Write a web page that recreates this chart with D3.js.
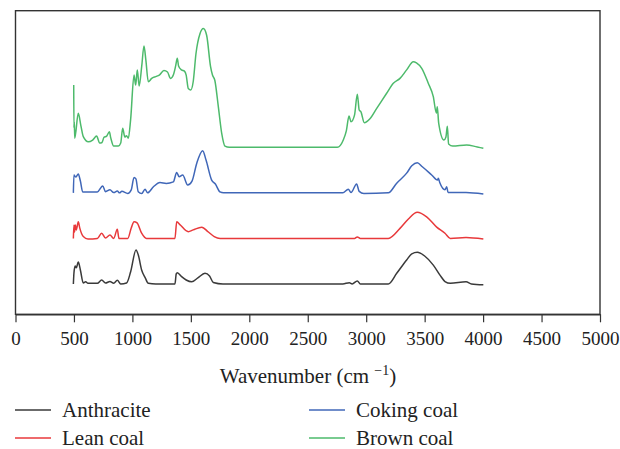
<!DOCTYPE html>
<html>
<head>
<meta charset="utf-8">
<script src="https://cdn.jsdelivr.net/npm/d3@7"></script>
<style>
  html, body { margin: 0; padding: 0; background: #fff; }
  svg { display: block; font-family: "Liberation Serif", "DejaVu Serif", serif; }
</style>
</head>
<body>
<svg id="chart" width="620" height="449"></svg>
<script>
// FTIR spectra of four coal ranks, stacked with vertical offsets.
const seriesNames = ["Anthracite", "Lean coal", "Coking coal", "Brown coal"];
const seriesColors = ["#3a3a3a", "#e8393b", "#4067b8", "#4dba6b"];
const seriesOffsets = [10, 25, 40, 55];

const xTicks = [0, 500, 1000, 1500, 2000, 2500, 3000, 3500, 4000, 4500, 5000];

// wavenumber (cm^-1), relative absorbance
const anthraciteWave = [495, 500, 510, 520, 537, 555, 580, 600, 620, 700, 737, 770, 808, 840, 871, 900, 950, 985, 1031, 1050, 1079, 1110, 1136, 1200, 1364, 1375, 1384, 1421, 1460, 1507, 1560, 1621, 1660, 1692, 1775, 2800, 2856, 2880, 2924, 2950, 3189, 3261, 3346, 3390, 3437, 3500, 3574, 3631, 3674, 3720, 3854, 3900, 4002];
const anthraciteAbs = [0, 3.6, 5.9, 5.3, 7.2, 4.6, 0.3, 0.7, 0.2, 0.2, 1.3, 0.3, 0.8, 0.2, 1.2, 0, 0.3, 4, 11.2, 9.6, 4.6, 2, 0.2, 0, 0, 3.3, 3.7, 2.4, 1.3, 0.7, 2, 3.5, 2.6, 0.5, 0, 0, 0.4, 0, 1, 0, 0, 3.5, 7.9, 9.9, 10.4, 9.2, 6.2, 2.9, 0.8, 0.2, 0.7, 0, -0.3];

const leanWave = [495, 500, 505, 512, 520, 537, 550, 580, 620, 700, 737, 770, 808, 840, 871, 885, 960, 990, 1014, 1040, 1079, 1120, 1364, 1379, 1410, 1478, 1520, 1593, 1650, 1700, 1750, 2900, 2924, 2950, 3189, 3289, 3361, 3437, 3517, 3603, 3674, 3720, 3854, 4002];
const leanAbs = [0, 4.4, 2.1, 4.4, 2.8, 5.5, 3.4, 0.6, -0.2, 0, 1.7, 0.1, 1.1, 0, 3, 0, 0, 3.4, 5.5, 5.1, 1.7, 0, 0, 5.5, 4.4, 2.2, 2.8, 3.7, 2.1, 0.6, 0, 0, 0.5, 0, 0, 3.3, 6.4, 8.6, 7.1, 3.7, 1.7, 0, 0.3, -0.2];

const cokingWave = [495, 500, 515, 537, 555, 575, 700, 746, 770, 808, 840, 871, 890, 910, 960, 990, 1014, 1030, 1050, 1080, 1108, 1130, 1180, 1236, 1290, 1350, 1379, 1400, 1430, 1473, 1510, 1550, 1601, 1630, 1678, 1710, 1749, 1780, 2800, 2847, 2870, 2918, 2940, 2980, 3189, 3261, 3346, 3390, 3437, 3480, 3560, 3610, 3617, 3630, 3674, 3689, 3700, 3854, 4002];
const cokingAbs = [0, 5.9, 5.2, 6.2, 3.9, 0.3, 0.3, 2.3, 0.4, 1, 0.1, 0.6, 0, 0.5, -0.2, 1, 5.1, 4.6, 0.4, -0.2, 1.2, 0, 2, 3.4, 3.1, 3.6, 6.7, 5.3, 5.9, 2.6, 3.9, 9.7, 13.9, 10.8, 4.2, 2.9, 0.3, 0, 0, 1.2, 0.1, 2.9, 0.5, -0.2, 0, 3.2, 6.5, 8.9, 9.9, 8.6, 5.9, 4.2, 4.8, 3.3, 1, 2, 0.1, 0.1, -0.4];

const brownWave = [498, 500, 503, 507, 537, 560, 580, 623, 660, 694, 720, 740, 757, 780, 803, 815, 840, 880, 900, 917, 935, 950, 965, 985, 1014, 1028, 1042, 1058, 1080, 1099, 1115, 1136, 1165, 1200, 1230, 1270, 1300, 1327, 1350, 1370, 1384, 1395, 1420, 1445, 1460, 1478, 1500, 1520, 1544, 1578, 1607, 1635, 1669, 1685, 1705, 1735, 1764, 1792, 1830, 2753, 2804, 2830, 2853, 2870, 2900, 2924, 2940, 2955, 2984, 3030, 3090, 3175, 3232, 3289, 3346, 3403, 3430, 3475, 3531, 3574, 3600, 3608, 3620, 3665, 3682, 3694, 3705, 3740, 3859, 3950, 4002];
const brownAbs = [20.5, 6.4, 8.4, 3, 11.2, 7, 3.5, 1.8, 2.4, 3.7, 1.4, 1.6, 3.3, 3.7, 5.1, 3.1, 0.4, 0.4, 1.4, 6.3, 3.4, 3.8, 3, 9.2, 23.8, 20.5, 25.5, 20.2, 26.8, 33.4, 28.8, 21.6, 22.7, 23.3, 23.8, 25.3, 24.8, 22.7, 23.8, 26.8, 29.3, 26.8, 25.5, 25.1, 23.8, 19.4, 18.9, 21.6, 30.9, 37.4, 39.1, 36.9, 26.5, 23.8, 22.1, 13.4, 4.6, 0.4, 0, 0, 2.4, 5.4, 10.3, 8.4, 10.6, 17.5, 12.3, 11.7, 8.1, 9.3, 12.8, 17.8, 21.1, 22.7, 25.5, 28.2, 27.8, 26, 21.1, 16.7, 11.3, 13.4, 8, 2.4, 3.4, 6.9, 1.1, 0.4, 0.8, 0.1, -0.3];

const waves = [anthraciteWave, leanWave, cokingWave, brownWave];
const absorb = [anthraciteAbs, leanAbs, cokingAbs, brownAbs];

const svg = d3.select("#chart");
const plot = { left: 15.5, right: 600, top: 10.7, bottom: 314.3 };

const x = d3.scaleLinear().domain([0, 5000]).range([plot.left, plot.right]);
const y = d3.scaleLinear().domain([0, 100]).range([plot.bottom, plot.top]);

// plot frame
svg.append("rect")
  .attr("x", plot.left).attr("y", plot.top)
  .attr("width", plot.right - plot.left)
  .attr("height", plot.bottom - plot.top)
  .attr("fill", "none")
  .attr("stroke", "#333")
  .attr("stroke-width", 1.4);

// bottom axis
const xAxis = d3.axisBottom(x).tickValues(xTicks).tickFormat(d3.format("d")).tickSizeOuter(0).tickSizeInner(8).tickPadding(9);
const gx = svg.append("g").attr("transform", `translate(0,${plot.bottom})`).call(xAxis);
gx.select(".domain").attr("stroke", "#333").attr("stroke-width", 1.4);
gx.selectAll(".tick line").attr("stroke", "#333").attr("stroke-width", 1.2);
gx.selectAll(".tick text")
  .attr("fill", "#222")
  .style("font-family", "'Liberation Serif', serif")
  .style("font-size", "19px");

// axis title with superscript
const title = svg.append("text")
  .attr("x", 308).attr("y", 383)
  .attr("text-anchor", "middle")
  .attr("fill", "#222")
  .style("font-size", "21px");
title.append("tspan").text("Wavenumber (cm ");
title.append("tspan").attr("dy", -8).style("font-size", "14px").text("\u22121");
title.append("tspan").attr("dy", 8).text(")");

// spectra
const line = d3.line()
  .x(d => x(d[0]))
  .y(d => y(d[1]))
  .curve(d3.curveMonotoneX);

seriesNames.forEach((name, i) => {
  const pts = waves[i].map((w, j) => [w, absorb[i][j] + seriesOffsets[i]]);
  svg.append("path")
    .datum(pts)
    .attr("fill", "none")
    .attr("stroke", seriesColors[i])
    .attr("stroke-width", 1.5)
    .attr("stroke-linejoin", "round")
    .attr("d", line);
});

// legend: two columns, two rows
const legendPos = [
  { lx: 15, ly: 410 },
  { lx: 15, ly: 438 },
  { lx: 309, ly: 410 },
  { lx: 309, ly: 438 }
];
seriesNames.forEach((name, i) => {
  const p = legendPos[i];
  const g = svg.append("g").attr("transform", `translate(${p.lx},${p.ly})`);
  g.append("line")
    .attr("x1", 0).attr("x2", 36).attr("y1", 0).attr("y2", 0)
    .attr("stroke", seriesColors[i]).attr("stroke-width", 1.6);
  g.append("text")
    .attr("x", 47).attr("y", 7)
    .attr("fill", "#222")
    .style("font-size", "21px")
    .text(name);
});
</script>
</body>
</html>
